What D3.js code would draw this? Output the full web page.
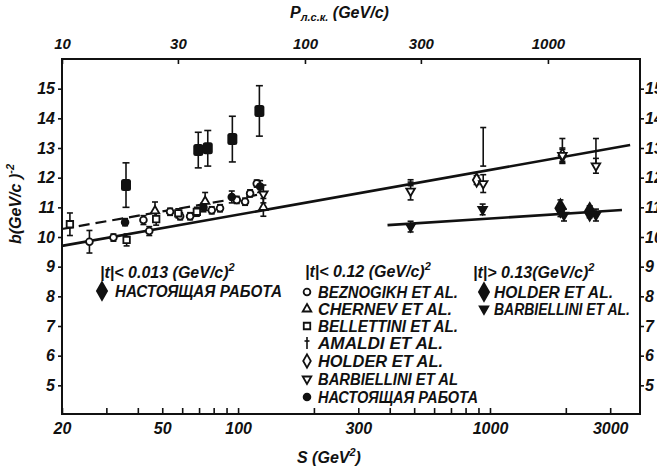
<!DOCTYPE html>
<html>
<head>
<meta charset="utf-8">
<script src="https://cdn.jsdelivr.net/npm/d3@7"></script>
<style>
  body { margin: 0; background: #fff; }
  text { font-family: "Liberation Sans", Arial, sans-serif; font-style: italic; font-weight: bold; fill: #111; }
</style>
</head>
<body>
<svg id="chart" width="657" height="469"></svg>
<script>
// S (GeV^2), b (GeV/c)^-2, error
const thisWork013 = [[35.9, 11.75, 0.75], [69.5, 12.93, 0.6], [75.8, 12.99, 0.6], [94.9, 13.3, 0.77], [121.5, 14.25, 0.85]];

const beznogikh = [[25.7, 9.84, 0.38], [32.0, 9.98, 0.12], [42.1, 10.57, 0.15], [44.4, 10.2, 0.15], [53.7, 10.85, 0.12],
                   [58.9, 10.7, 0.12], [64.5, 10.7, 0.12], [78.6, 10.9, 0.12], [84.8, 10.97, 0.12], [98.8, 11.25, 0.12],
                   [106.6, 11.19, 0.12], [111.6, 11.47, 0.12], [118.6, 11.8, 0.12]];
const chernev = [[46.8, 10.88, 0.3], [74, 11.2, 0.3], [126, 11.0, 0.3]];
const bellettini = [[21.5, 10.43, 0.38], [36.1, 9.9, 0.2], [47.3, 10.6, 0.2], [57.9, 10.8, 0.15], [68.6, 10.85, 0.15]];
const amaldi = [[484, 11.83, 0.1], [940, 13.04, 0.65], [1938, 12.9, 0.42], [2634, 12.87, 0.45]];
const holderOpen = [[885, 11.92, 0.15], [1938, 12.75, 0.2]];
const barbielliniOpen = [[126, 11.45, 0.3], [484, 11.55, 0.3], [940, 11.8, 0.3], [1938, 12.75, 0.25], [2634, 12.4, 0.25]];
const thisWork012 = [[35.6, 10.5, 0.12], [72.9, 11.0, 0.15], [94.4, 11.35, 0.2], [122.3, 11.7, 0.2]];

const holderFilled = [[1904, 10.97, 0.28], [2488, 10.85, 0.2]];
const barbielliniFilled = [[484, 10.35, 0.18], [935, 10.93, 0.18], [1967, 10.74, 0.2], [2634, 10.74, 0.2]];

// fitted lines
const solidLine = [[20, 9.7], [3600, 13.1]];
const dashedLine = [[20, 10.27], [125, 11.45]];
const lowerLine = [[392, 10.4], [3340, 10.91]];

// axis ticks
const sLabels = [20, 50, 100, 300, 1000, 3000];
const sTicks = [20, 30, 40, 50, 60, 70, 80, 90, 100, 200, 300, 400, 500, 600, 700, 800, 900, 1000, 2000, 3000];
const pTicks = [10, 30, 100, 300, 1000];
const bTicks = [5, 6, 7, 8, 9, 10, 11, 12, 13, 14, 15];

const svg = d3.select("#chart");
const L = 62, R = 640, T = 59, B = 414;

const x = d3.scaleLog().domain([20, 3940]).range([L, R]);
const xTop = d3.scaleLog().domain([10, 2393]).range([L, R]);
const y = d3.scaleLinear().domain([4, 16]).range([415, 59]);

// frame
svg.append("rect").attr("x", L).attr("y", T).attr("width", R - L).attr("height", B - T)
  .attr("fill", "none").attr("stroke", "#111").attr("stroke-width", 2);

// axes
const fmt = d => sLabels.includes(d) ? d : "";
const gB = svg.append("g").attr("transform", `translate(0,${B})`)
  .call(d3.axisBottom(x).tickValues(sTicks).tickFormat(fmt).tickSizeInner(-6).tickSizeOuter(0).tickPadding(9));
const gT = svg.append("g").attr("transform", `translate(0,${T})`)
  .call(d3.axisTop(xTop).tickValues(pTicks).tickFormat(d => d).tickSizeInner(-5).tickSizeOuter(0).tickPadding(10));
const gL = svg.append("g").attr("transform", `translate(${L},0)`)
  .call(d3.axisLeft(y).tickValues(bTicks).tickSize(4).tickPadding(3));
const gR = svg.append("g").attr("transform", `translate(${R},0)`)
  .call(d3.axisRight(y).tickValues(bTicks).tickSize(4).tickPadding(1));
[gB, gT, gL, gR].forEach(g => {
  g.select(".domain").remove();
  g.selectAll("line").attr("stroke", "#111").attr("stroke-width", 1.6);
  g.selectAll("text").attr("font-size", 16).attr("fill", "#111")
    .style("font-family", "'Liberation Sans', Arial, sans-serif").style("font-style", "italic").style("font-weight", "bold");
});
gT.selectAll("text").attr("font-size", 15);

// axis titles
const bt = svg.append("text").attr("x", 297).attr("y", 463).attr("font-size", 16);
bt.append("tspan").text("S (GeV");
bt.append("tspan").attr("dy", -7).attr("font-size", 11).text("2");
bt.append("tspan").attr("dy", 7).text(")");

const tt = svg.append("text").attr("x", 290).attr("y", 18).attr("font-size", 16);
tt.append("tspan").text("P");
tt.append("tspan").attr("dy", 3).attr("font-size", 11).text("л.с.к.");
tt.append("tspan").attr("dy", -3).text(" (GeV/c)");

const yt = svg.append("text").attr("transform", "translate(21,244) rotate(-90)").attr("font-size", 16);
yt.append("tspan").text("b(GeV/c )");
yt.append("tspan").attr("dy", -7).attr("font-size", 11).text("-2");

// lines
const line = d3.line().x(d => x(d[0])).y(d => y(d[1]));
svg.append("path").datum(solidLine).attr("d", line).attr("fill", "none").attr("stroke", "#111").attr("stroke-width", 2.6);
svg.append("path").datum(dashedLine).attr("d", line).attr("fill", "none").attr("stroke", "#111").attr("stroke-width", 2.2)
  .attr("stroke-dasharray", "11,6");
svg.append("path").datum(lowerLine).attr("d", line).attr("fill", "none").attr("stroke", "#111").attr("stroke-width", 2.6);

// error bars
function errBars(data, cap) {
  const g = svg.append("g").attr("stroke", "#111").attr("stroke-width", 1.6);
  data.forEach(d => {
    const px = x(d[0]), y1 = y(d[1] + d[2]), y2 = y(d[1] - d[2]);
    g.append("line").attr("x1", px).attr("x2", px).attr("y1", y1).attr("y2", y2);
    g.append("line").attr("x1", px - cap).attr("x2", px + cap).attr("y1", y1).attr("y2", y1);
    g.append("line").attr("x1", px - cap).attr("x2", px + cap).attr("y1", y2).attr("y2", y2);
  });
}

const shapes = {
  circle: d3.symbol(d3.symbolCircle, 36),
  square: d3.symbol(d3.symbolSquare, 42),
  tri: d3.symbol(d3.symbolTriangle, 32),
  diamond: d3.symbol(d3.symbolDiamond, 50),
  bigDiamond: d3.symbol(d3.symbolDiamond, 90)
};
function marks(data, shape, filled, rot) {
  svg.append("g").selectAll("path").data(data).join("path")
    .attr("d", shapes[shape])
    .attr("transform", d => `translate(${x(d[0])},${y(d[1])}) rotate(${rot || 0})`)
    .attr("fill", filled ? "#111" : "#fff").attr("stroke", "#111").attr("stroke-width", 1.8);
}

[beznogikh, chernev, bellettini, amaldi, holderOpen, barbielliniOpen, thisWork012, holderFilled, barbielliniFilled]
  .forEach(s => errBars(s, 3));
errBars(thisWork013, 3.5);

marks(beznogikh, "circle", false);
marks(bellettini, "square", false);
marks(chernev, "tri", false);
marks(holderOpen, "diamond", false);
marks(barbielliniOpen, "tri", false, 180);
marks(thisWork012, "circle", true);
marks(holderFilled, "bigDiamond", true);
marks(barbielliniFilled, "tri", true, 180);

svg.append("g").selectAll("rect").data(thisWork013).join("rect")
  .attr("x", d => x(d[0]) - 5).attr("y", d => y(d[1]) - 6).attr("width", 10).attr("height", 12)
  .attr("rx", 2.5).attr("fill", "#111");

// legends
function title(xp, yp, txt) {
  const t = svg.append("text").attr("x", xp).attr("y", yp).attr("font-size", 16);
  t.append("tspan").text(txt);
  t.append("tspan").attr("dy", -7).attr("font-size", 11).text("2");
}
function entry(xm, xt, yc, shape, filled, rot, label, len) {
  if (shape === "plus") {
    svg.append("line").attr("x1", xm).attr("x2", xm).attr("y1", yc - 6).attr("y2", yc + 6).attr("stroke", "#111").attr("stroke-width", 1.6);
    svg.append("line").attr("x1", xm - 2.5).attr("x2", xm + 2.5).attr("y1", yc - 2).attr("y2", yc - 2).attr("stroke", "#111").attr("stroke-width", 1.6);
  } else {
    svg.append("path").attr("d", shapes[shape]).attr("transform", `translate(${xm},${yc}) rotate(${rot || 0})`)
      .attr("fill", filled ? "#111" : "#fff").attr("stroke", "#111").attr("stroke-width", 1.8);
  }
  svg.append("text").attr("x", xt).attr("y", yc + 6).attr("font-size", 16)
    .attr("textLength", len).attr("lengthAdjust", "spacingAndGlyphs").text(label);
}

title(100, 278, "|t|< 0.013 (GeV/c)");
entry(102, 115, 291, "bigDiamond", true, 0, "НАСТОЯЩАЯ РАБОТА", 167);

title(305, 277, "|t|< 0.12 (GeV/c)");
const midRows = [
  ["circle", false, 0, "BEZNOGIKH ET AL.", 140],
  ["tri", false, 0, "CHERNEV  ET AL.", 134],
  ["square", false, 0, "BELLETTINI ET AL.", 140],
  ["plus", false, 0, "AMALDI  ET AL.", 125],
  ["diamond", false, 0, "HOLDER ET AL.", 125],
  ["tri", false, 180, "BARBIELLINI ET AL", 140],
  ["circle", true, 0, "НАСТОЯЩАЯ РАБОТА", 160]
];
const midY = [292, 309, 326, 343, 361, 379, 397];
midRows.forEach((r, i) => entry(307, 318, midY[i], r[0], r[1], r[2], r[3], r[4]));

title(473, 278, "|t|> 0.13(GeV/c)");
entry(484, 494, 292, "bigDiamond", true, 0, "HOLDER  ET AL.", 119);
entry(484, 494, 309, "tri", true, 180, "BARBIELLINI ET AL.", 136);
</script>
</body>
</html>
